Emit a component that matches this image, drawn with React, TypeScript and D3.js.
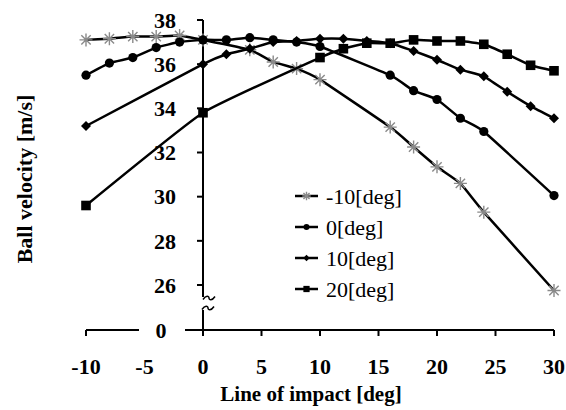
import React from "react";
import { scaleLinear, line as d3line, curveCardinal } from "d3";

// values
const seriesNames = ["-10[deg]", "0[deg]", "10[deg]", "20[deg]"];

const xMinus10 = [-10, -8, -6, -4, -2, 0, 4, 6, 8, 10, 16, 18, 20, 22, 24, 30];
const vMinus10 = [37.1, 37.15, 37.25, 37.25, 37.3, 37.1, 36.65, 36.1, 35.8, 35.3, 33.15, 32.25, 31.35, 30.6, 29.3, 25.75];

const x0 = [-10, -8, -6, -4, -2, 0, 2, 4, 6, 8, 10, 16, 18, 20, 22, 24, 30];
const v0 = [35.5, 36.05, 36.3, 36.75, 37.0, 37.1, 37.1, 37.2, 37.1, 37.0, 36.8, 35.5, 34.8, 34.4, 33.55, 32.95, 30.05];

const x10 = [-10, 0, 2, 4, 6, 8, 10, 12, 14, 16, 18, 20, 22, 24, 26, 28, 30];
const v10 = [33.2, 36.0, 36.45, 36.7, 37.0, 37.05, 37.15, 37.15, 37.05, 36.95, 36.6, 36.2, 35.75, 35.45, 34.75, 34.1, 33.55];

const x20 = [-10, 0, 10, 12, 14, 16, 18, 20, 22, 24, 26, 28, 30];
const v20 = [29.6, 33.8, 36.3, 36.7, 36.95, 36.95, 37.1, 37.05, 37.05, 36.9, 36.45, 35.95, 35.7];

const xTicks = [-10, -5, 0, 5, 10, 15, 20, 25, 30];
const yTicks = [26, 28, 30, 32, 34, 36, 38];

const W = 566;
const H = 410;
const zeroY = 330;
const gray = "#8a8a8a";

const xScale = scaleLinear().domain([-10, 30]).range([86, 554]);
const yScale = scaleLinear().domain([26, 38]).range([285, 20]);

type Pt = { x: number; v: number };
const toPts = (xs: number[], vs: number[]): Pt[] => xs.map((x, i) => ({ x, v: vs[i] }));

const series = [
  { name: seriesNames[0], kind: "star", pts: toPts(xMinus10, vMinus10) },
  { name: seriesNames[1], kind: "circle", pts: toPts(x0, v0) },
  { name: seriesNames[2], kind: "diamond", pts: toPts(x10, v10) },
  { name: seriesNames[3], kind: "square", pts: toPts(x20, v20) },
];

const lineGen = d3line<Pt>()
  .x((d) => xScale(d.x))
  .y((d) => yScale(d.v))
  .curve(curveCardinal.tension(0.6));

function Marker({ kind, cx, cy, s = 1 }: { kind: string; cx: number; cy: number; s?: number }) {
  if (kind === "circle") return <circle cx={cx} cy={cy} r={4.6 * s} fill="#000" />;
  if (kind === "square")
    return <rect x={cx - 4.8 * s} y={cy - 4.8 * s} width={9.6 * s} height={9.6 * s} fill="#000" />;
  if (kind === "diamond") {
    const r = 5 * s;
    return <path d={`M${cx},${cy - r}L${cx + r},${cy}L${cx},${cy + r}L${cx - r},${cy}Z`} fill="#000" />;
  }
  const a = 6.5 * s;
  const b = a * 0.72;
  return (
    <path
      d={`M${cx},${cy - a}V${cy + a}M${cx - a},${cy}H${cx + a}M${cx - b},${cy - b}L${cx + b},${cy + b}M${cx - b},${cy + b}L${cx + b},${cy - b}`}
      stroke={gray}
      strokeWidth={1.4}
      fill="none"
    />
  );
}

// small wavy "~" used for the axis break
const wave = (cx: number, cy: number) =>
  `M${cx - 6},${cy + 1.5} C${cx - 3},${cy - 3} ${cx},${cy - 2} ${cx},${cy} S${cx + 3},${cy + 3} ${cx + 6},${cy - 1.5}`;

export default function App() {
  const axisX = xScale(0);
  const legendRows = [196, 227, 258, 289];

  return (
    <div style={{ position: "absolute", left: 0, top: 0, background: "#fff" }}>
      <svg width={W} height={H} style={{ display: "block", fontFamily: "'Liberation Serif', 'Times New Roman', serif" }}>
        <rect width={W} height={H} fill="#fff" />

        {/* y axis (broken) */}
        <line x1={axisX} x2={axisX} y1={yScale(38)} y2={297} stroke="#000" strokeWidth={2} />
        <line x1={axisX} x2={axisX} y1={310} y2={zeroY + 6} stroke="#000" strokeWidth={2} />
        <path d={wave(axisX + 6, 298)} stroke="#000" strokeWidth={1.5} fill="none" />
        <path d={wave(axisX + 5, 308)} stroke="#000" strokeWidth={1.5} fill="none" />
        {yTicks.map((t) => (
          <g key={t}>
            <line x1={axisX - 6} x2={axisX} y1={yScale(t)} y2={yScale(t)} stroke="#000" strokeWidth={2} />
            <text x={176} y={yScale(t)} dy="0.35em" textAnchor="end" fontSize={22} fontWeight="bold">
              {t}
            </text>
          </g>
        ))}

        {/* x axis with a gap for the "0" label */}
        <line x1={xScale(-10)} x2={139} y1={zeroY} y2={zeroY} stroke="#000" strokeWidth={2} />
        <line x1={185} x2={xScale(30)} y1={zeroY} y2={zeroY} stroke="#000" strokeWidth={2} />
        <text x={161} y={zeroY} dy="0.35em" textAnchor="middle" fontSize={22} fontWeight="bold">
          0
        </text>
        {xTicks.map((t) => (
          <g key={t}>
            {t !== -5 && t !== 0 && (
              <line x1={xScale(t)} x2={xScale(t)} y1={zeroY} y2={zeroY + 6} stroke="#000" strokeWidth={2} />
            )}
            <text x={xScale(t)} y={374} textAnchor="middle" fontSize={22} fontWeight="bold">
              {t}
            </text>
          </g>
        ))}

        {/* axis titles */}
        <text x={311} y={401} textAnchor="middle" fontSize={21} fontWeight="bold">
          Line of impact [deg]
        </text>
        <text
          transform={`translate(32,179) rotate(-90)`}
          textAnchor="middle"
          fontSize={22}
          fontWeight="bold"
        >
          Ball velocity [m/s]
        </text>

        {/* series */}
        {series.map((s) => (
          <g key={s.name}>
            <path d={lineGen(s.pts) ?? ""} fill="none" stroke="#000" strokeWidth={2.5} />
            {s.pts.map((p, i) => (
              <Marker key={i} kind={s.kind} cx={xScale(p.x)} cy={yScale(p.v)} />
            ))}
          </g>
        ))}

        {/* legend */}
        {series.map((s, i) => (
          <g key={s.name}>
            <line x1={295} x2={318} y1={legendRows[i]} y2={legendRows[i]} stroke="#000" strokeWidth={2.5} />
            <Marker kind={s.kind} cx={306.5} cy={legendRows[i]} s={0.65} />
            <text x={326} y={legendRows[i]} dy="0.35em" fontSize={22}>
              {s.name}
            </text>
          </g>
        ))}
      </svg>
    </div>
  );
}
